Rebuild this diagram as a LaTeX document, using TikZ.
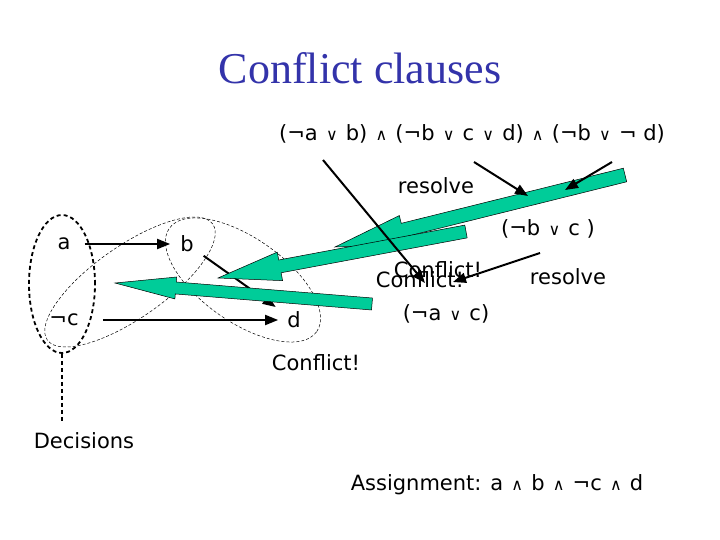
\documentclass[tikz,border=0pt]{standalone}
\usepackage{fontspec}
\setmainfont{DejaVu Sans}
\newfontfamily\titlefont{Liberation Serif}
\usepackage{tikz}
\usetikzlibrary{arrows.meta,calc,shapes.geometric}
\definecolor{titleblue}{RGB}{51,51,170}
\definecolor{resgreen}{RGB}{0,204,153}
\newcommand{\orsym}{\hspace{1.5pt}{\fontsize{16pt}{16pt}\selectfont ∨}\hspace{1.5pt}}
\newcommand{\andsym}{\hspace{1.5pt}{\fontsize{16pt}{16pt}\selectfont ∧}\hspace{1.5pt}}
% block arrow: tail, tip, shaft half width, head half width, head length
\newcommand{\resarrow}[5]{%
  \filldraw[garr] let \p1=($(#1)-(#2)$), \n1={atan2(\y1,\x1)} in
    (#2) -- ($(#2)+(\n1:#5)+(\n1+90:#4)$) -- ($(#2)+(\n1:#5)+(\n1+90:#3)$)
    -- ($(#1)+(\n1+90:#3)$) -- ($(#1)+(\n1-90:#3)$)
    -- ($(#2)+(\n1:#5)+(\n1-90:#3)$) -- ($(#2)+(\n1:#5)+(\n1-90:#4)$) -- cycle;}

\begin{document}
\begin{tikzpicture}[x=1pt, y=-1pt,
      txt/.style={font=\fontsize{21pt}{25pt}\selectfont, inner sep=0pt},
      arr/.style={-{Triangle[length=13pt,width=10pt]}, line width=2pt},
      garr/.style={fill=resgreen, draw=black, line width=0.5pt},
      decset/.style={dash pattern=on 4pt off 3pt, line width=1.8pt},
      impset/.style={draw, ellipse, dash pattern=on 3pt off 2pt,
                     line width=0.5pt, inner sep=0pt}]
    \useasboundingbox (0,0) rectangle (720,540);
    \node[font=\titlefont\fontsize{44pt}{50pt}\selectfont, text=titleblue]
      (title) at (360,68) {Conflict clauses};
    \node[txt] (cnf) at (472,134)
      {(¬a \orsym{} b) \andsym{} (¬b \orsym{} c \orsym{} d) \andsym{} (¬b \orsym{} ¬ d)};

    % implication graph
    \node[txt] (a) at (64,244) {a};
    \node[txt] (nc) at (64,320) {¬c};
    \node[txt] (b) at (187,244) {b};
    \node[txt] (d) at (294,320) {d};
    \node[draw, ellipse, decset, minimum width=66pt, minimum height=138pt,
          inner sep=0pt] (dec) at (62,284) {};
    \node[impset, minimum width=202pt, minimum height=72pt, rotate=35]
      (cutb) at (130,282) {};
    \node[impset, minimum width=180pt, minimum height=84pt, rotate=-35]
      (cutd) at (243,280) {};
    \draw[arr, shorten <=14pt, shorten >=10pt] (a) -- (b);
    \draw[arr, shorten <=24pt, shorten >=9pt] (nc) -- (d);
    \draw[arr, shorten <=12pt, shorten >=14pt] (b) -- (d);
    \node[txt] (decl) at (84,441) {Decisions};
    \draw[decset, shorten >=12pt] (dec.south) -- (dec.south |- decl.north);

    % resolution steps
    \coordinate (g1tail) at (625,175); \coordinate (g1tip) at (335,247);
    \coordinate (g2tail) at (466,231.5); \coordinate (g2tip) at (218,278);
    \coordinate (g3tail) at (372,304); \coordinate (g3tip) at (115,283);
    \resarrow{g1tail}{g1tip}{7pt}{15pt}{70pt}
    \resarrow{g2tail}{g2tip}{6.5pt}{14.5pt}{63pt}
    \resarrow{g3tail}{g3tip}{6pt}{11pt}{61pt}

    \node[txt] (res1) at (436,186) {resolve};
    \node[txt] (cl1) at (548,229) {(¬b \orsym{} c )};
    \node[txt] (res2) at (568,277) {resolve};
    \node[txt] (cfa) at (438,270) {Conflict!};
    \node[txt] (cfb) at (420,280) {Conflict!};
    \node[txt] (cl2) at (446,314) {(¬a \orsym{} c)};
    \node[txt] (cfc) at (316,363) {Conflict!};
    \node[txt] (asg) at (497,485) {Assignment: a \andsym{} b \andsym{} ¬c \andsym{} d};

    \coordinate (p1) at (323,160); \coordinate (q1) at (425,283);
    \coordinate (p2) at (474,162); \coordinate (q2) at (528,196);
    \coordinate (p3) at (612,162); \coordinate (q3) at (565,190);
    \coordinate (p4) at (540,253); \coordinate (q4) at (453,282);
    \draw[arr] (p1) -- (q1);
    \draw[arr] (p2) -- (q2);
    \draw[arr] (p3) -- (q3);
    \draw[arr] (p4) -- (q4);
  \end{tikzpicture}
\end{document}
